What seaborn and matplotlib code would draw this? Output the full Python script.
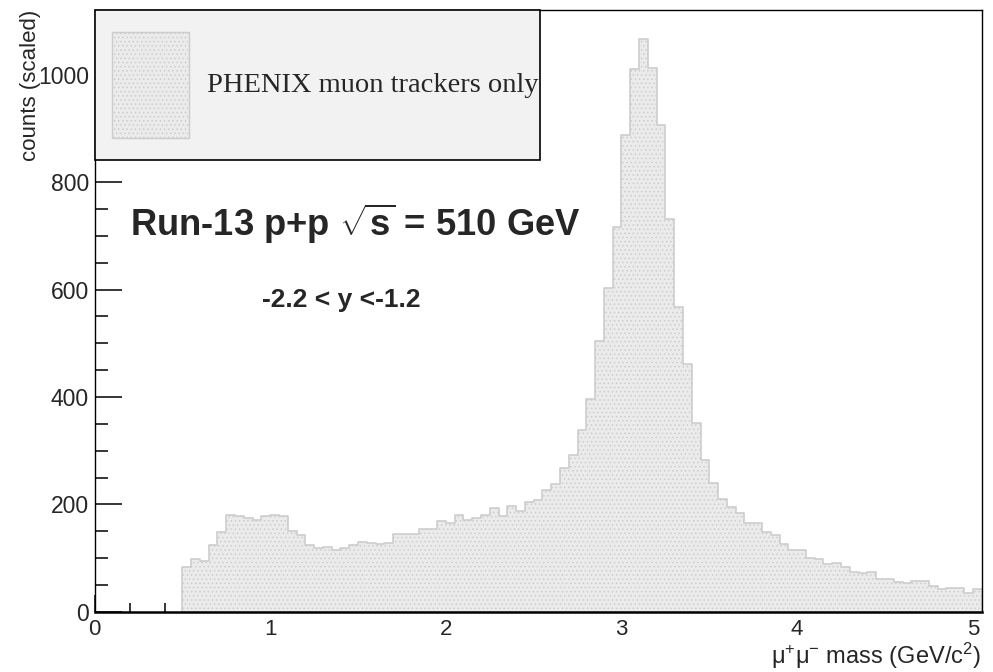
import numpy as np
import pandas as pd
import matplotlib
matplotlib.use("Agg")
import matplotlib.pyplot as plt
import seaborn as sns
from matplotlib.patches import Rectangle
from matplotlib.ticker import MultipleLocator

# ---------------- data ----------------
bin_low = 0.5
bin_width = 0.05
counts = [84, 98, 95, 124, 148, 181, 178, 175, 172, 179,
          181, 178, 151, 143, 124, 119, 121, 116, 119, 125,
          130, 128, 126, 128, 146, 146, 146, 154, 154, 170,
          166, 181, 172, 175, 181, 194, 178, 197, 188, 205,
          208, 227, 238, 267, 292, 339, 396, 505, 603, 716,
          888, 1010, 1066, 1013, 906, 731, 568, 461, 351, 283,
          240, 210, 196, 184, 166, 166, 148, 143, 127, 115,
          115, 101, 98, 90, 91, 83, 75, 73, 75, 62,
          62, 56, 54, 57, 57, 48, 42, 45, 45, 35,
          42]
x_ticks = [0, 1, 2, 3, 4, 5]
y_ticks = [0, 200, 400, 600, 800, 1000]
legend_label = "PHENIX muon trackers only"
title_text = r"Run-13 p+p $\sqrt{\mathbf{s}}$ = 510 GeV"
rap_text = "-2.2 < y <-1.2"
x_label = r"μ$^{+}$μ$^{-}$ mass (GeV/c$^{2}$)"
y_label = "counts (scaled)"

edges = [round(bin_low + bin_width * i, 4) for i in range(len(counts) + 1)]
centers = [round((edges[i] + edges[i + 1]) / 2, 4) for i in range(len(counts))]
df = pd.DataFrame({"mass": centers, "counts": counts})

# ---------------- style ----------------
sns.set_style("ticks")
plt.rcParams["font.family"] = ["Liberation Sans", "DejaVu Sans"]
plt.rcParams["mathtext.fontset"] = "custom"
plt.rcParams["mathtext.rm"] = "Liberation Sans"
plt.rcParams["mathtext.bf"] = "Liberation Sans:bold"
plt.rcParams["mathtext.it"] = "Liberation Sans:italic"
plt.rcParams["mathtext.default"] = "regular"
plt.rcParams["hatch.color"] = "#d6d6d6"
plt.rcParams["hatch.linewidth"] = 0.6

fig = plt.figure(figsize=(9.93, 6.72), dpi=100)
ax = fig.add_axes([0.0952, 0.0893, 0.8933, 0.8958])

fill_col = "#ebebeb"
edge_col = "#cdcdcd"
sns.histplot(data=df, x="mass", weights="counts", bins=edges, element="step",
             fill=True, color=fill_col, edgecolor=edge_col, hatch="....",
             linewidth=1.2, alpha=1, ax=ax)

ax.set_xlim(0, 5.05)
ax.set_ylim(0, 1120)
ax.set_xlabel("")
ax.set_ylabel("")

ax.set_xticks(x_ticks)
ax.set_xticklabels([str(t) for t in x_ticks])
ax.xaxis.set_minor_locator(MultipleLocator(0.2))
ax.set_yticks(y_ticks)
ax.set_yticklabels([str(t) for t in y_ticks])
ax.yaxis.set_minor_locator(MultipleLocator(50))

ax.tick_params(which="both", direction="in", top=False, right=False, color="black")
ax.tick_params(axis="x", which="major", length=12.2, width=1.1, labelsize=16, pad=5)
ax.tick_params(axis="x", which="minor", length=6.3, width=1.1)
ax.tick_params(axis="y", which="major", length=19.4, width=1.1, labelsize=16.5, pad=4)
ax.tick_params(axis="y", which="minor", length=9.7, width=1.1)

for s in ["top", "right", "left"]:
    ax.spines[s].set_linewidth(1.0)
    ax.spines[s].set_color("black")
ax.spines["bottom"].set_linewidth(1.8)
ax.spines["bottom"].set_color("black")

# legend box (ROOT TLegend style)
ax.add_patch(Rectangle((0, 0.751), 0.502, 0.249, transform=ax.transAxes,
                       facecolor="#f2f2f2", edgecolor="black", linewidth=1.2,
                       zorder=4, clip_on=False))
ax.add_patch(Rectangle((0.0197, 0.787), 0.0868, 0.176, transform=ax.transAxes,
                       facecolor=fill_col, edgecolor=edge_col, linewidth=1.0,
                       hatch="....", zorder=5))
ax.text(0.1268, 0.875, legend_label, transform=ax.transAxes, ha="left",
        va="center", fontsize=20.5, family=["Liberation Serif", "DejaVu Serif"],
        zorder=6)

ax.text(0.0395, 0.645, title_text, transform=ax.transAxes, ha="left",
        va="center", fontsize=26.2, fontweight="bold", zorder=6)
ax.text(0.1885, 0.519, rap_text, transform=ax.transAxes, ha="left",
        va="center", fontsize=19, fontweight="bold", zorder=6)

fig.text(31 / 993, 1 - 10 / 672, y_label, rotation=90, ha="center", va="top",
         fontsize=16)
fig.text(981 / 993, 1 - 671 / 672, x_label, ha="right", va="bottom",
         fontsize=17)

fig.savefig("out.png", dpi=100)
